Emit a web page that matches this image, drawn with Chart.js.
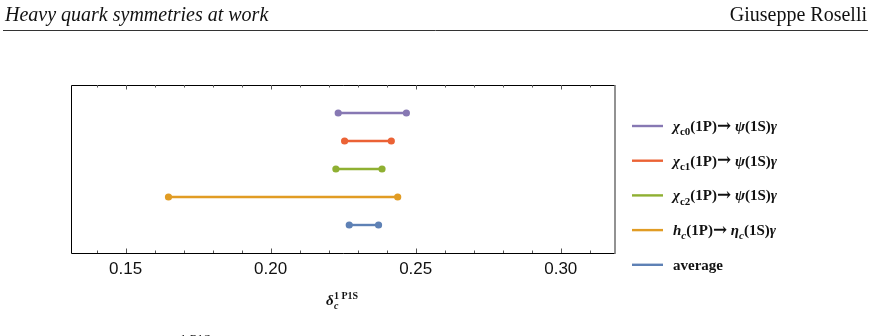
<!DOCTYPE html>
<html>
<head>
<meta charset="utf-8">
<script src="https://cdn.jsdelivr.net/npm/chart.js@4.4.1/dist/chart.umd.min.js"></script>
<style>
  html, body { margin: 0; padding: 0; background: #fff; }
  #wrap { width: 871px; height: 336px; }
</style>
</head>
<body>
<div id="wrap"><canvas id="deltaChart" width="871" height="336"></canvas></div>
<script>
// transitions, top row first
const transitions = ['chi_c0', 'chi_c1', 'chi_c2', 'h_c', 'average'];
const lowValues  = [0.2233, 0.2255, 0.2225, 0.1648, 0.2271];
const highValues = [0.2468, 0.2416, 0.2384, 0.2438, 0.2372];
const rowIndex   = [5, 4, 3, 2, 1];
const colors     = ['#8778B3', '#EB6235', '#8FB032', '#E19C24', '#5E81B5'];
const xTicks     = [0.15, 0.20, 0.25, 0.30];

// legend labels as rich text runs: [text, style] ; style: n normal, i italic, s subscript, si subscript italic
const legendRuns = [
  [['χ', 'i'], ['c0', 's'], ['(1P)', 'n'], ['→', 'a'], [' ψ', 'i'], ['(1S)', 'n'], ['γ', 'i']],
  [['χ', 'i'], ['c1', 's'], ['(1P)', 'n'], ['→', 'a'], [' ψ', 'i'], ['(1S)', 'n'], ['γ', 'i']],
  [['χ', 'i'], ['c2', 's'], ['(1P)', 'n'], ['→', 'a'], [' ψ', 'i'], ['(1S)', 'n'], ['γ', 'i']],
  [['h', 'i'], ['c', 'si'], ['(1P)', 'n'], ['→', 'a'], [' η', 'i'], ['c', 'si'], ['(1S)', 'n'], ['γ', 'i']],
  [['average', 'n']]
];

const SERIF = '"Liberation Serif", "Times New Roman", serif';

function runFont(style, size) {
  if (style === 'a') return 'bold ' + Math.round(size * 1.15) + 'px "DejaVu Serif", serif';
  const sub = style[0] === 's';
  const it = style.indexOf('i') >= 0;
  return (it ? 'italic ' : '') + 'bold ' + (sub ? Math.round(size * 0.72) : size) + 'px ' + SERIF;
}

function drawRuns(ctx, runs, x, y, size) {
  ctx.textBaseline = 'alphabetic';
  ctx.textAlign = 'left';
  for (const [txt, style] of runs) {
    ctx.font = runFont(style, size);
    const dy = style[0] === 's' ? size * 0.28 : (style === 'a' ? -0.5 : 0);
    ctx.fillText(txt, x, y + dy);
    x += ctx.measureText(txt).width;
  }
}

const datasets = transitions.map((name, i) => ({
  label: name,
  data: [{ x: lowValues[i], y: rowIndex[i] }, { x: highValues[i], y: rowIndex[i] }],
  showLine: true,
  borderColor: colors[i],
  backgroundColor: colors[i],
  borderWidth: 2.4,
  pointRadius: 3.6,
  pointHoverRadius: 3.6,
  pointBorderWidth: 0
}));

const decorPlugin = {
  id: 'decor',
  afterDraw(chart) {
    const ctx = chart.ctx;
    const a = chart.chartArea;
    const xs = chart.scales.x;
    ctx.save();

    // page header
    ctx.fillStyle = '#111';
    ctx.font = 'italic 20px ' + SERIF;
    ctx.textBaseline = 'alphabetic';
    ctx.textAlign = 'left';
    ctx.fillText('Heavy quark symmetries at work', 5, 21);
    ctx.font = '20px ' + SERIF;
    ctx.textAlign = 'right';
    ctx.fillText('Giuseppe Roselli', 867, 21);
    ctx.strokeStyle = '#333';
    ctx.lineWidth = 1;
    ctx.beginPath();
    ctx.moveTo(3, 30.5);
    ctx.lineTo(868, 30.5);
    ctx.stroke();

    // frame
    ctx.strokeStyle = '#000';
    ctx.lineWidth = 1;
    ctx.beginPath();
    ctx.moveTo(a.right, a.top + 0.5);
    ctx.lineTo(a.left + 0.5, a.top + 0.5);
    ctx.lineTo(a.left + 0.5, a.bottom + 0.5);
    ctx.lineTo(a.right, a.bottom + 0.5);
    ctx.stroke();
    ctx.strokeStyle = '#777';
    ctx.lineWidth = 1.6;
    ctx.beginPath();
    ctx.moveTo(a.right, a.top);
    ctx.lineTo(a.right, a.bottom + 1);
    ctx.stroke();

    // inward ticks top and bottom
    ctx.strokeStyle = '#555';
    ctx.lineWidth = 1;
    for (let k = 14; k <= 31; k++) {
      const v = k / 100;
      const px = Math.round(xs.getPixelForValue(v)) + 0.5;
      const major = k % 5 === 0;
      const len = major ? 4.5 : 2.5;
      ctx.beginPath();
      ctx.moveTo(px, a.top);
      ctx.lineTo(px, a.top + len);
      ctx.moveTo(px, a.bottom);
      ctx.lineTo(px, a.bottom - len);
      ctx.stroke();
    }

    // legend
    const lx0 = 632, lx1 = 663, tx = 673, ly0 = 126, step = 34.7;
    for (let i = 0; i < transitions.length; i++) {
      const y = ly0 + i * step;
      ctx.strokeStyle = colors[i];
      ctx.lineWidth = 2.4;
      ctx.beginPath();
      ctx.moveTo(lx0, y);
      ctx.lineTo(lx1, y);
      ctx.stroke();
      ctx.fillStyle = '#111';
      drawRuns(ctx, legendRuns[i], tx, y + 5, 15);
    }

    // axis label
    ctx.fillStyle = '#111';
    ctx.textAlign = 'left';
    ctx.font = 'italic bold 15px ' + SERIF;
    ctx.fillText('δ', 326, 305);
    ctx.font = 'italic bold 10px ' + SERIF;
    ctx.fillText('c', 334, 309);
    ctx.font = 'bold 10px ' + SERIF;
    ctx.fillText('1 P1S', 334, 299);

    // caption fragment cut at page bottom
    ctx.font = '13px ' + SERIF;
    ctx.fillText('1 P1S', 180, 343);

    ctx.restore();
  }
};

new Chart(document.getElementById('deltaChart'), {
  type: 'scatter',
  data: { datasets: datasets },
  options: {
    responsive: false,
    animation: false,
    layout: { padding: { left: 71, right: 256, top: 85, bottom: 0 } },
    plugins: { legend: { display: false }, tooltip: { enabled: false } },
    scales: {
      x: {
        type: 'linear',
        min: 0.1312,
        max: 0.3187,
        afterBuildTicks: s => { s.ticks = xTicks.map(v => ({ value: v })); },
        afterFit: s => { s.height = 83; },
        grid: { display: false, drawTicks: false },
        border: { display: false },
        ticks: {
          padding: 6,
          maxRotation: 0,
          autoSkip: false,
          color: '#111',
          font: { family: '"Liberation Sans", Arial, sans-serif', size: 17 },
          callback: v => v.toFixed(2)
        }
      },
      y: {
        type: 'linear',
        min: 0,
        max: 6,
        display: false
      }
    }
  },
  plugins: [decorPlugin]
});
</script>
</body>
</html>
